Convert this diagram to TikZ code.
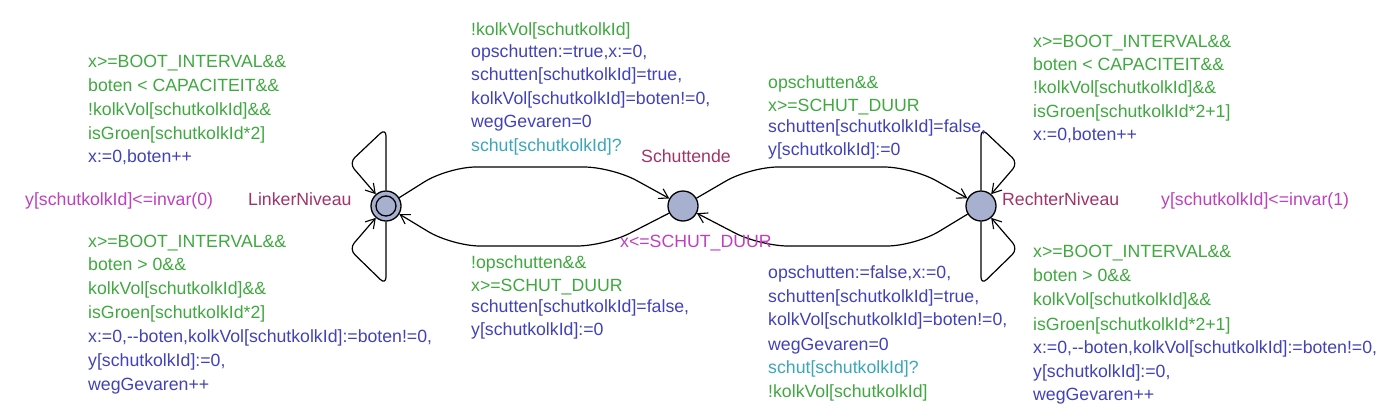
\documentclass[tikz,border=0pt]{standalone}
\usepackage{fontspec}
\setmainfont{Liberation Sans}
\usetikzlibrary{arrows.meta}
\definecolor{gcol}{RGB}{64,168,64}
\definecolor{acol}{RGB}{66,66,184}
\definecolor{scol}{RGB}{58,166,185}
\definecolor{icol}{RGB}{190,64,190}
\definecolor{ncol}{RGB}{160,52,104}
\definecolor{locfill}{RGB}{168,176,208}
\newcommand\lab[5]{\node[lbl,text=#4] (#1) at (#2,#3) {#5};}
\begin{document}
\begin{tikzpicture}[x=1pt,y=-1pt,
  lbl/.style={anchor=base west,inner sep=0pt,font=\fontsize{17.7}{24}\selectfont},
  loc/.style={circle,draw=black,line width=1.3pt,fill=locfill,minimum size=30pt,inner sep=0pt},
  edge/.style={draw=black,line width=1.2pt,rounded corners=28pt,-{Straight Barb[length=9pt,width=11pt,line width=1.1pt]}},
  loop/.style={draw=black,line width=1.2pt,rounded corners=8pt,-{Straight Barb[length=9pt,width=11pt,line width=1.1pt]}}]
\useasboundingbox (0,0) rectangle (1400,418);
% locations
\node[loc] (L) at (386,206) {};
\node[circle,draw=black,line width=1.3pt,minimum size=20pt,inner sep=0pt] (Linit) at (L) {};
\node[loc] (S) at (683,206) {};
\node[loc] (R) at (981,206) {};
% bend points
\coordinate (a1) at (448,167); \coordinate (a2) at (612,167);
\coordinate (b1) at (750,167); \coordinate (b2) at (912,167);
\coordinate (c1) at (915,246); \coordinate (c2) at (760,246);
\coordinate (d1) at (605,246); \coordinate (d2) at (452,246);
\coordinate (lt1) at (386,128); \coordinate (lt2) at (349,163);
\coordinate (lb1) at (386,285); \coordinate (lb2) at (349,249);
\coordinate (rt1) at (981,128); \coordinate (rt2) at (1018,163);
\coordinate (rb1) at (981,285); \coordinate (rb2) at (1018,249);
% edges
\draw[edge] (L) -- (a1) -- (a2) -- (S);
\draw[edge] (S) -- (d1) -- (d2) -- (L);
\draw[edge] (S) -- (b1) -- (b2) -- (R);
\draw[edge] (R) -- (c1) -- (c2) -- (S);
\draw[loop] (L.north) -- (lt1) -- (lt2) -- (L);
\draw[loop] (L.south) -- (lb1) -- (lb2) -- (L);
\draw[loop] (R.north) -- (rt1) -- (rt2) -- (R);
\draw[loop] (R.south) -- (rb1) -- (rb2) -- (R);
% names and invariants
\lab{nL}{248}{205}{ncol}{LinkerNiveau}
\lab{iL}{25}{205}{icol}{y[schutkolkId]<=invar(0)}
\lab{nS}{641}{162}{ncol}{Schuttende}
\lab{iS}{620}{247}{icol}{x<=SCHUT\_DUUR}
\lab{nR}{1002}{205}{ncol}{RechterNiveau}
\lab{iR}{1161}{205}{icol}{y[schutkolkId]<=invar(1)}
% top-left loop
\lab{tl1}{88}{67}{gcol}{x>=BOOT\_INTERVAL\&\&}
\lab{tl2}{88}{91}{gcol}{boten < CAPACITEIT\&\&}
\lab{tl3}{88}{115}{gcol}{!kolkVol[schutkolkId]\&\&}
\lab{tl4}{88}{139}{gcol}{isGroen[schutkolkId*2]}
\lab{tl5}{88}{162}{acol}{x:=0,boten++}
% bottom-left loop
\lab{bl1}{88}{247}{gcol}{x>=BOOT\_INTERVAL\&\&}
\lab{bl2}{88}{270}{gcol}{boten > 0\&\&}
\lab{bl3}{88}{294}{gcol}{kolkVol[schutkolkId]\&\&}
\lab{bl4}{88}{318}{gcol}{isGroen[schutkolkId*2]}
\lab{bl5}{88}{342}{acol}{x:=0,-{}-boten,kolkVol[schutkolkId]:=boten!=0,}
\lab{bl6}{88}{366}{acol}{y[schutkolkId]:=0,}
\lab{bl7}{88}{390}{acol}{wegGevaren++}
% L -> S
\lab{ls1}{471}{35}{gcol}{!kolkVol[schutkolkId]}
\lab{ls2}{471}{57}{acol}{opschutten:=true,x:=0,}
\lab{ls3}{471}{80}{acol}{schutten[schutkolkId]=true,}
\lab{ls4}{471}{104}{acol}{kolkVol[schutkolkId]=boten!=0,}
\lab{ls5}{471}{127}{acol}{wegGevaren=0}
\lab{ls6}{471}{151}{scol}{schut[schutkolkId]?}
% S -> R
\lab{sr1}{768}{88}{gcol}{opschutten\&\&}
\lab{sr2}{768}{111}{gcol}{x>=SCHUT\_DUUR}
\lab{sr3}{768}{132}{acol}{schutten[schutkolkId]=false,}
\lab{sr4}{768}{155}{acol}{y[schutkolkId]:=0}
% S -> L
\lab{sl1}{471}{268}{gcol}{!opschutten\&\&}
\lab{sl2}{471}{291}{gcol}{x>=SCHUT\_DUUR}
\lab{sl3}{471}{312}{acol}{schutten[schutkolkId]=false,}
\lab{sl4}{471}{335}{acol}{y[schutkolkId]:=0}
% R -> S
\lab{rs1}{768}{278}{acol}{opschutten:=false,x:=0,}
\lab{rs2}{768}{302}{acol}{schutten[schutkolkId]=true,}
\lab{rs3}{768}{325}{acol}{kolkVol[schutkolkId]=boten!=0,}
\lab{rs4}{768}{350}{acol}{wegGevaren=0}
\lab{rs5}{768}{373}{scol}{schut[schutkolkId]?}
\lab{rs6}{768}{397}{gcol}{!kolkVol[schutkolkId]}
% top-right loop
\lab{tr1}{1033}{47}{gcol}{x>=BOOT\_INTERVAL\&\&}
\lab{tr2}{1033}{70}{gcol}{boten < CAPACITEIT\&\&}
\lab{tr3}{1033}{93}{gcol}{!kolkVol[schutkolkId]\&\&}
\lab{tr4}{1033}{117}{gcol}{isGroen[schutkolkId*2+1]}
\lab{tr5}{1033}{140}{acol}{x:=0,boten++}
% bottom-right loop
\lab{br1}{1033}{257}{gcol}{x>=BOOT\_INTERVAL\&\&}
\lab{br2}{1033}{281}{gcol}{boten > 0\&\&}
\lab{br3}{1033}{305}{gcol}{kolkVol[schutkolkId]\&\&}
\lab{br4}{1033}{330}{gcol}{isGroen[schutkolkId*2+1]}
\lab{br5}{1033}{353}{acol}{x:=0,-{}-boten,kolkVol[schutkolkId]:=boten!=0,}
\lab{br6}{1033}{377}{acol}{y[schutkolkId]:=0,}
\lab{br7}{1033}{400}{acol}{wegGevaren++}
\end{tikzpicture}
\end{document}
